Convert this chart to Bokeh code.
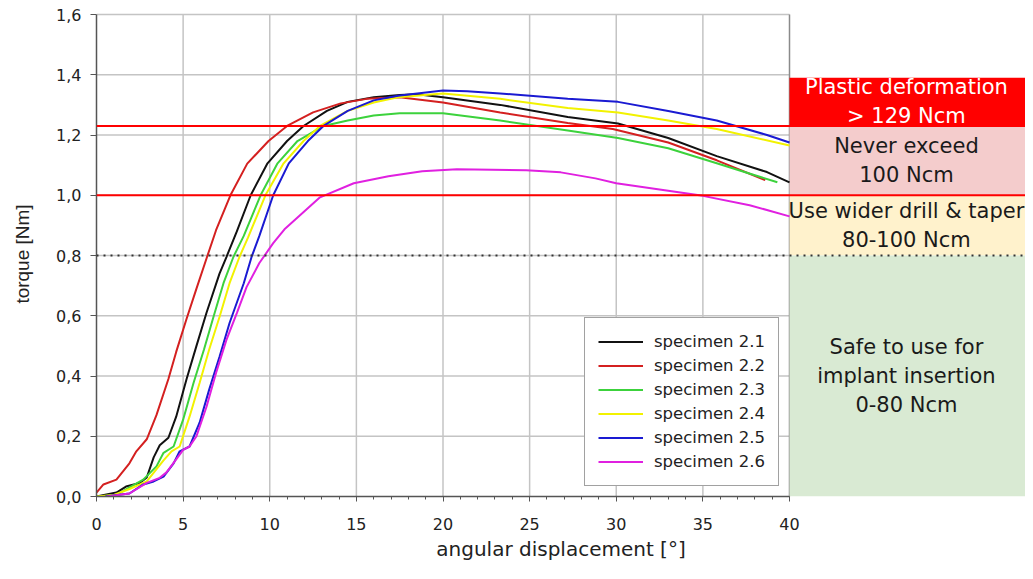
from bokeh.plotting import figure
from bokeh.models import Range1d, FixedTicker, Span, Legend, LegendItem, CustomJSTickFormatter
from bokeh.core.properties import value
from bokeh.embed import file_html
from bokeh.resources import INLINE

# ---------------- data ----------------
x_ticks = [0, 5, 10, 15, 20, 25, 30, 35, 40]
y_ticks = [0.0, 0.2, 0.4, 0.6, 0.8, 1.0, 1.2, 1.4, 1.6]

names = ["specimen 2.1", "specimen 2.2", "specimen 2.3",
         "specimen 2.4", "specimen 2.5", "specimen 2.6"]
colors = ["#111111", "#d42020", "#3cd23c", "#f2f200", "#1a1ad2", "#e020e0"]

x21 = [0, 1.15, 1.7, 2.5, 2.9, 3.3, 3.65, 4.15, 4.6, 5.2, 5.77, 6.35, 7.1, 7.5, 8.1, 8.9,
       9.87, 11.0, 11.95, 13.3, 14.5, 16.0, 17.5, 18.5, 20.0, 23.3, 27.2, 30.1, 33.0, 35.8, 38.7, 40.0]
y21 = [0, 0.013, 0.033, 0.045, 0.063, 0.13, 0.17, 0.195, 0.265, 0.39, 0.50, 0.61, 0.74, 0.795, 0.88, 1.0,
       1.106, 1.18, 1.23, 1.28, 1.31, 1.325, 1.333, 1.335, 1.325, 1.30, 1.26, 1.238, 1.19, 1.13, 1.077, 1.043]

x22 = [0, 0.4, 1.15, 1.9, 2.3, 2.9, 3.46, 4.15, 4.6, 5.2, 5.77, 6.35, 6.9, 7.73, 8.7, 9.93,
       11.0, 12.5, 14.1, 15.6, 17.5, 20.0, 23.3, 27.2, 29.8, 33.0, 35.8, 38.6]
y22 = [0.013, 0.04, 0.056, 0.11, 0.15, 0.19, 0.27, 0.39, 0.48, 0.59, 0.69, 0.79, 0.884, 1.0, 1.105, 1.18,
       1.23, 1.275, 1.305, 1.32, 1.325, 1.308, 1.275, 1.24, 1.22, 1.175, 1.116, 1.05]

x23 = [0, 1.15, 1.9, 2.7, 3.46, 3.87, 4.45, 5.0, 5.6, 6.2, 6.75, 7.33, 7.9, 8.5, 9.47, 10.45,
       11.6, 13.1, 14.5, 16.0, 17.5, 20.0, 23.3, 27.2, 30.1, 33.0, 35.8, 39.3]
y23 = [0, 0.005, 0.03, 0.056, 0.1, 0.145, 0.166, 0.255, 0.377, 0.487, 0.596, 0.708, 0.795, 0.865, 1.0, 1.106,
       1.18, 1.23, 1.248, 1.265, 1.272, 1.272, 1.248, 1.215, 1.19, 1.156, 1.106, 1.043]

x24 = [0, 1.0, 1.9, 2.9, 3.87, 4.33, 4.8, 5.37, 5.95, 6.5, 7.1, 7.68, 8.25, 8.75, 9.75, 10.8,
       11.95, 12.9, 14.5, 16.0, 17.4, 20.0, 23.3, 27.2, 30.1, 33.0, 35.8, 40.0]
y24 = [0, 0.005, 0.025, 0.05, 0.12, 0.15, 0.166, 0.265, 0.377, 0.487, 0.596, 0.708, 0.795, 0.86, 1.0, 1.106,
       1.18, 1.23, 1.28, 1.308, 1.325, 1.338, 1.32, 1.29, 1.275, 1.248, 1.22, 1.165]

x25 = [0.5, 1.9, 2.7, 3.3, 3.87, 4.45, 4.8, 5.37, 5.95, 6.5, 7.1, 7.68, 8.5, 8.95, 9.4, 10.2,
       11.1, 12.2, 13.1, 14.5, 16.0, 17.4, 20.0, 21.4, 23.3, 27.2, 30.1, 33.0, 35.8, 38.7, 40.0]
y25 = [0, 0.01, 0.04, 0.05, 0.066, 0.11, 0.15, 0.166, 0.245, 0.354, 0.464, 0.576, 0.708, 0.795, 0.865, 1.0,
       1.106, 1.18, 1.23, 1.28, 1.315, 1.33, 1.348, 1.345, 1.338, 1.32, 1.31, 1.28, 1.248, 1.2, 1.175]

x26 = [0.6, 1.9, 2.9, 3.65, 4.04, 4.6, 5.0, 5.37, 5.77, 6.35, 6.9, 7.5, 8.1, 8.66, 9.4, 10.2,
       10.85, 12.9, 14.85, 16.85, 18.8, 20.8, 24.8, 26.8, 28.8, 30.0, 32.8, 35.0, 37.7, 40.0]
y26 = [0, 0.01, 0.045, 0.062, 0.08, 0.123, 0.155, 0.166, 0.2, 0.298, 0.41, 0.52, 0.609, 0.695, 0.775, 0.841,
       0.887, 0.993, 1.04, 1.063, 1.08, 1.086, 1.083, 1.076, 1.056, 1.04, 1.017, 0.998, 0.967, 0.93]

series_x = [x21, x22, x23, x24, x25, x26]
series_y = [y21, y22, y23, y24, y25, y26]

# zones (Nm)
zone_bottom = [1.23, 1.0, 0.8, 0.0]
zone_top = [1.39, 1.23, 1.0, 0.8]
zone_fill = ["#ff0000", "#f4cccc", "#fff2cc", "#d9ead3"]
zone_text = ["Plastic deformation\n> 129 Ncm", "Never exceed\n100 Ncm",
             "Use wider drill & taper\n80-100 Ncm", "Safe to use for\nimplant insertion\n0-80 Ncm"]
zone_text_color = ["#ffffff", "#1a1a1a", "#1a1a1a", "#1a1a1a"]
red_limits = [1.23, 1.0]
dotted_limit = 0.8

# ---------------- figure ----------------
W, H = 1025, 563
BL, BR, BT, BB = 96, 0, 11, 66
X_PER_UNIT = 693 / 40.0
x_end = (W - BL - BR) / X_PER_UNIT
y_end = 1.61

p = figure(width=W, height=H, output_backend="svg", toolbar_location=None,
           x_range=Range1d(0, x_end), y_range=Range1d(0, y_end),
           min_border_left=BL, min_border_right=BR, min_border_top=BT, min_border_bottom=BB)
p.outline_line_color = None
p.xgrid.visible = False
p.ygrid.visible = False
p.background_fill_color = "white"

xmax = x_ticks[-1]
ymax = y_ticks[-1]

# grid lines (limited to the chart area)
p.segment(x0=[0] * (len(y_ticks) - 1), x1=[xmax] * (len(y_ticks) - 1), y0=y_ticks[1:], y1=y_ticks[1:],
          line_color="#c4c4c4", line_width=1.5)
p.segment(x0=x_ticks[1:-1], x1=x_ticks[1:-1], y0=[0] * (len(x_ticks) - 2), y1=[ymax] * (len(x_ticks) - 2),
          line_color="#c4c4c4", line_width=1.5)
p.segment(x0=[xmax], x1=[xmax], y0=[0], y1=[ymax], line_color="#8a8a8a", line_width=1.5)

# zone boxes
p.quad(left=xmax, right=x_end, bottom=zone_bottom, top=zone_top, fill_color=zone_fill, line_color=None)

# curves
renderers = []
for xs, ys, c in zip(series_x, series_y, colors):
    r = p.line(xs, ys, line_color=c, line_width=2)
    renderers.append(r)

# threshold lines
for loc in red_limits:
    p.add_layout(Span(location=loc, dimension="width", line_color="#ff0000", line_width=2))
p.add_layout(Span(location=dotted_limit, dimension="width", line_color="#333333",
                  line_width=2, line_dash="2 5"))

# zone texts
label_x = xmax + 6.75
p.text(x=[label_x] * len(zone_text),
       y=[(b + t) / 2 for b, t in zip(zone_bottom, zone_top)],
       text=zone_text, text_color=zone_text_color, text_align="center", text_baseline="middle",
       text_font=value("DejaVu Sans"), text_font_size="21px", text_line_height=1.22)

# axes
for ax in p.xaxis:
    ax.bounds = (0, xmax)
    ax.ticker = FixedTicker(ticks=x_ticks, minor_ticks=list(range(0, xmax + 1)))
    ax.axis_line_color = "#555555"
    ax.axis_line_width = 1.5
    ax.major_tick_line_color = "#555555"
    ax.minor_tick_line_color = "#555555"
    ax.major_tick_out = 5
    ax.major_tick_in = 0
    ax.minor_tick_out = 3
    ax.minor_tick_in = 0
    ax.major_label_text_font = "DejaVu Sans"
    ax.major_label_text_font_size = "16px"
    ax.major_label_text_color = "#222222"
    ax.major_label_standoff = 16
    ax.axis_label = "angular displacement [°]"
    ax.axis_label_text_font = "DejaVu Sans"
    ax.axis_label_text_font_size = "20px"
    ax.axis_label_text_font_style = "normal"
    ax.axis_label_text_color = "#222222"
    ax.axis_label_standoff = 4

for ax in p.yaxis:
    ax.bounds = (0, ymax)
    ax.ticker = FixedTicker(ticks=y_ticks)
    ax.formatter = CustomJSTickFormatter(code="return tick.toFixed(1).replace('.', ',');")
    ax.axis_line_color = "#555555"
    ax.axis_line_width = 1.5
    ax.major_tick_line_color = "#555555"
    ax.major_tick_out = 6
    ax.major_tick_in = 0
    ax.minor_tick_line_color = None
    ax.major_label_text_font = "DejaVu Sans"
    ax.major_label_text_font_size = "16px"
    ax.major_label_text_color = "#222222"
    ax.major_label_standoff = 9
    ax.axis_label = "torque [Nm]"
    ax.axis_label_text_font = "Liberation Sans"
    ax.axis_label_text_font_size = "19px"
    ax.axis_label_text_font_style = "normal"
    ax.axis_label_text_color = "#222222"
    ax.axis_label_standoff = 20

legend = Legend(items=[LegendItem(label=n, renderers=[r]) for n, r in zip(names, renderers)],
                location=(488, 10), margin=0, padding=13, spacing=3,
                glyph_width=45, glyph_height=21, label_height=21, label_standoff=11,
                label_text_font="DejaVu Sans", label_text_font_size="16.5px",
                label_text_color="#222222",
                border_line_color="#444444", border_line_width=1,
                background_fill_color="white", background_fill_alpha=1.0)
p.add_layout(legend)

open("out.html", "w").write(file_html(p, INLINE))
